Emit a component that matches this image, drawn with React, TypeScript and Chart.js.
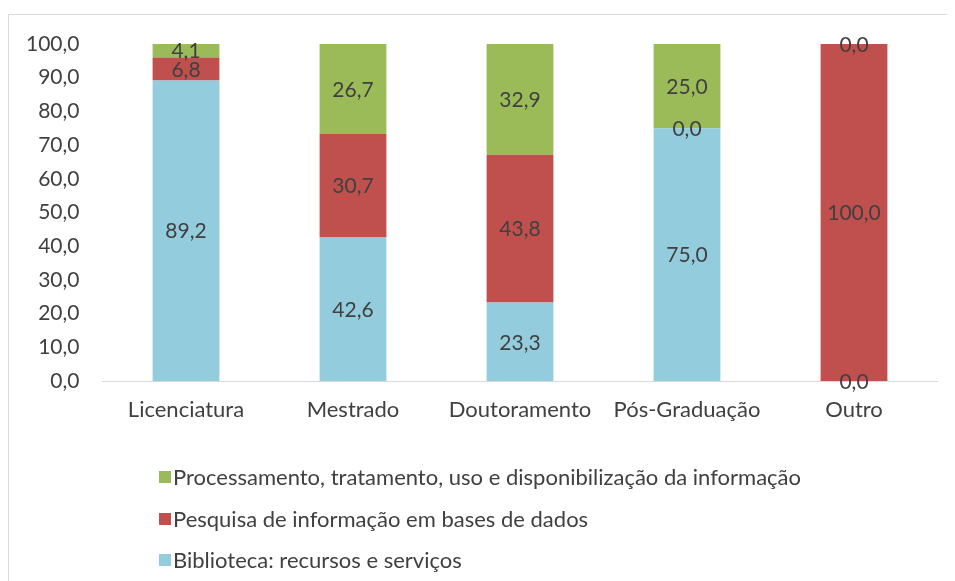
import React, { useEffect, useRef } from "react";
import { Chart, registerables } from "chart.js";

Chart.register(...registerables);

const categories = ["Licenciatura", "Mestrado", "Doutoramento", "Pós-Graduação", "Outro"];
const biblioteca = [89.2, 42.6, 23.3, 75.0, 0.0];
const pesquisa = [6.8, 30.7, 43.8, 0.0, 100.0];
const processamento = [4.1, 26.7, 32.9, 25.0, 0.0];
const seriesNames = [
  "Biblioteca: recursos e serviços",
  "Pesquisa de informação em bases de dados",
  "Processamento, tratamento, uso e disponibilização da informação",
];
const yTicks = [0, 10, 20, 30, 40, 50, 60, 70, 80, 90, 100];

const COLORS = ["#93CDDD", "#C0504D", "#9BBB59"];
const FONT = "Lato";
const FS = 21;
const FS_TXT = 22;
const TEXT = "#404040";

const fmt = (v: number) => v.toFixed(1).replace(".", ",");

const labelPlugin = {
  id: "segLabels",
  afterDatasetsDraw(chart: any) {
    const ctx = chart.ctx;
    ctx.save();
    ctx.font = `${FS}px ${FONT}`;
    ctx.fillStyle = TEXT;
    ctx.textAlign = "center";
    ctx.textBaseline = "middle";
    chart.data.datasets.forEach((ds: any, i: number) => {
      const meta = chart.getDatasetMeta(i);
      meta.data.forEach((el: any, j: number) => {
        const v = ds.data[j];
        const y = (el.y + el.base) / 2;
        ctx.fillText(fmt(v), el.x, y + 1);
      });
    });
    ctx.restore();
  },
};

const legendPlugin = {
  id: "colLegend",
  afterDraw(chart: any) {
    const ctx = chart.ctx;
    ctx.save();
    ctx.font = `${FS_TXT}px ${FONT}`;
    ctx.textAlign = "left";
    ctx.textBaseline = "middle";
    const ys = [462, 504, 545];
    const order = [2, 1, 0];
    order.forEach((di, k) => {
      const y = ys[k];
      ctx.fillStyle = COLORS[di];
      ctx.fillRect(150, y - 6, 12, 12);
      ctx.fillStyle = TEXT;
      ctx.fillText(chart.data.datasets[di].label, 164, y + 1);
    });
    ctx.restore();
  },
};

export default function App() {
  const ref = useRef<HTMLCanvasElement>(null);
  useEffect(() => {
    const chart = new Chart(ref.current!, {
      type: "bar",
      data: {
        labels: categories,
        datasets: [
          { label: seriesNames[0], data: biblioteca, backgroundColor: COLORS[0] },
          { label: seriesNames[1], data: pesquisa, backgroundColor: COLORS[1] },
          { label: seriesNames[2], data: processamento, backgroundColor: COLORS[2] },
        ],
      },
      options: {
        responsive: false,
        animation: false,
        events: [],
        datasets: { bar: { categoryPercentage: 1, barPercentage: 0.4 } },
        layout: { padding: { top: 29, right: 17.5, left: 0, bottom: 0 } },
        plugins: { legend: { display: false }, tooltip: { enabled: false } },
        scales: {
          x: {
            stacked: true,
            grid: { display: false, drawTicks: false },
            border: { color: "#D9D9D9", width: 1 },
            ticks: { color: TEXT, font: { family: FONT, size: FS_TXT }, padding: 16, maxRotation: 0 },
            afterFit: (s: any) => { s.height = 200; s.paddingLeft = 0; s.paddingRight = 0; },
          },
          y: {
            stacked: true,
            min: 0,
            max: 100,
            grid: { display: false, drawTicks: false },
            border: { display: false },
            afterBuildTicks: (s: any) => { s.ticks = yTicks.map((v) => ({ value: v })); },
            ticks: {
              color: TEXT,
              font: { family: FONT, size: FS },
              padding: 23,
              callback: (v: any) => fmt(Number(v)),
            },
            afterFit: (s: any) => { s.width = 93.5; s.paddingTop = 0; s.paddingBottom = 0; },
          },
        },
      },
      plugins: [labelPlugin, legendPlugin],
    });
    return () => chart.destroy();
  }, []);
  return (
    <div
      style={{
        marginTop: 6,
        width: 946,
        height: 567,
        borderTop: "1px solid #D9D9D9",
        borderLeft: "1px solid #D9D9D9",
        background: "#fff",
      }}
    >
      <canvas ref={ref} width={946} height={566} style={{ display: "block" }} />
    </div>
  );
}
